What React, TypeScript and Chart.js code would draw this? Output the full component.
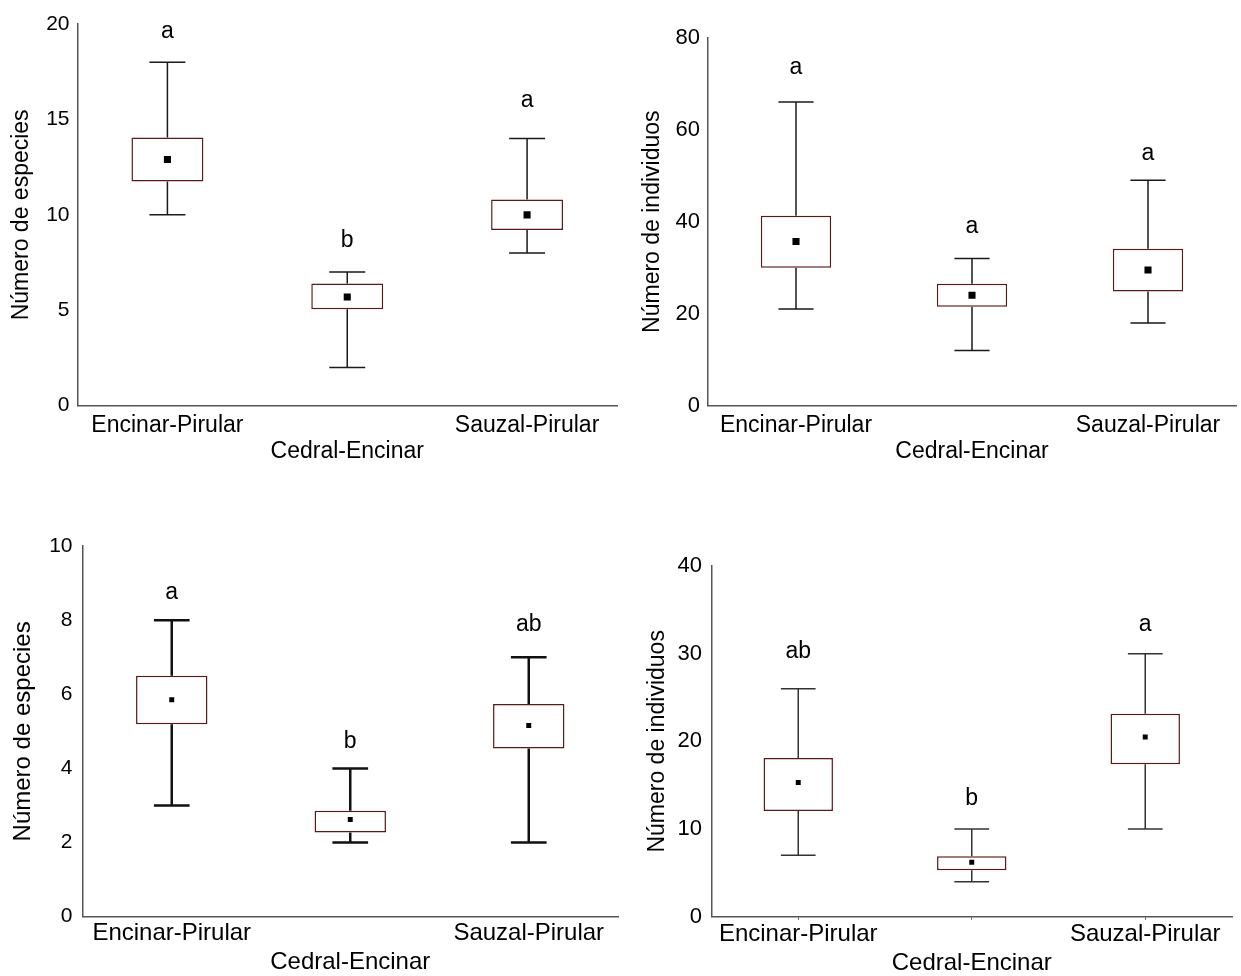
import React, { useEffect, useRef } from 'react';
import { Chart, registerables } from 'chart.js';

Chart.register(...registerables);

const FONT = "'Liberation Sans', Arial, Helvetica, sans-serif";

const categories = ['Encinar-Pirular', 'Cedral-Encinar', 'Sauzal-Pirular'];

// Panel A — Número de especies (0–20)
const aMin = [10, 2, 8];
const aQ1 = [11.75, 5.05, 9.2];
const aMean = [12.9, 5.7, 10.0];
const aQ3 = [14.05, 6.4, 10.8];
const aMax = [18, 7, 14];
const aLetters = ['a', 'b', 'a'];
const aLetterAt = [19.25, 8.3, 15.65];
const aRange = [0, 20, 5];

// Panel B — Número de individuos (0–80)
const bMin = [21, 12, 18];
const bQ1 = [30, 21.5, 24.8];
const bMean = [35.7, 24, 29.5];
const bQ3 = [41.3, 26.5, 34.1];
const bMax = [66, 32, 49];
const bLetters = ['a', 'a', 'a'];
const bLetterAt = [72.1, 37.5, 53.4];
const bRange = [0, 80, 20];

// Panel C — Número de especies (0–10)
const cMin = [3, 2, 2];
const cQ1 = [5.19, 2.27, 4.54];
const cMean = [5.85, 2.62, 5.16];
const cQ3 = [6.5, 2.86, 5.74];
const cMax = [8, 4, 7];
const cLetters = ['a', 'b', 'ab'];
const cLetterAt = [8.57, 4.54, 7.71];
const cRange = [0, 10, 2];

// Panel D — Número de individuos (0–40)
const dMin = [7, 4, 10];
const dQ1 = [12.05, 5.3, 17.4];
const dMean = [15.3, 6.2, 20.5];
const dQ3 = [18.1, 6.9, 23.15];
const dMax = [26, 10, 30];
const dLetters = ['ab', 'b', 'a'];
const dLetterAt = [29.5, 12.74, 32.6];
const dRange = [0, 40, 10];

const AXIS_COLOR = '#555555';
const BOX_EDGE = '#5a1a1a';

type Spec = {
  left: number; top: number; width: number; height: number;
  yAxisWidth: number; plotTop: number; xAxisHeight: number; plotRightGap: number;
  title: string; titleSize: number; titlePad: number;
  tickSize: number; tickPad: number;
  labelSize: number; labelLine: number; labelPad: number; xTickMarks: boolean;
  whiskerColor: string; whiskerWidth: number; meanRadius: number;
  min: number[]; q1: number[]; mean: number[]; q3: number[]; max: number[];
  letters: string[]; letterAt: number[]; range: number[];
};

const panels: Spec[] = [
  {
    left: 0, top: 0, width: 622, height: 480,
    yAxisWidth: 77.5, plotTop: 24, xAxisHeight: 74.3, plotRightGap: 0,
    title: 'Número de especies', titleSize: 23, titlePad: 7.5,
    tickSize: 21, tickPad: 8,
    labelSize: 23, labelLine: 26, labelPad: 7, xTickMarks: false,
    whiskerColor: '#1a1a1a', whiskerWidth: 1.5, meanRadius: 5,
    min: aMin, q1: aQ1, mean: aMean, q3: aQ3, max: aMax,
    letters: aLetters, letterAt: aLetterAt, range: aRange,
  },
  {
    left: 622, top: 0, width: 619, height: 480,
    yAxisWidth: 86, plotTop: 37.7, xAxisHeight: 74.3, plotRightGap: 0,
    title: 'Número de individuos', titleSize: 23, titlePad: 16.8,
    tickSize: 22, tickPad: 8,
    labelSize: 23, labelLine: 26, labelPad: 7, xTickMarks: false,
    whiskerColor: '#1a1a1a', whiskerWidth: 1.5, meanRadius: 5,
    min: bMin, q1: bQ1, mean: bMean, q3: bQ3, max: bMax,
    letters: bLetters, letterAt: bLetterAt, range: bRange,
  },
  {
    left: 0, top: 480, width: 622, height: 496,
    yAxisWidth: 82.5, plotTop: 66, xAxisHeight: 59.3, plotRightGap: 3.5,
    title: 'Número de especies', titleSize: 24, titlePad: 8.6,
    tickSize: 21, tickPad: 10,
    labelSize: 24, labelLine: 29, labelPad: 2.5, xTickMarks: false,
    whiskerColor: '#111111', whiskerWidth: 2.5, meanRadius: 3.5,
    min: cMin, q1: cQ1, mean: cMean, q3: cQ3, max: cMax,
    letters: cLetters, letterAt: cLetterAt, range: cRange,
  },
  {
    left: 622, top: 480, width: 619, height: 496,
    yAxisWidth: 89.5, plotTop: 86, xAxisHeight: 59.3, plotRightGap: 9,
    title: 'Número de individuos', titleSize: 23, titlePad: 21.6,
    tickSize: 22, tickPad: 9.5,
    labelSize: 24, labelLine: 29, labelPad: 0, xTickMarks: true,
    whiskerColor: '#333333', whiskerWidth: 1.5, meanRadius: 3.5,
    min: dMin, q1: dQ1, mean: dMean, q3: dQ3, max: dMax,
    letters: dLetters, letterAt: dLetterAt, range: dRange,
  },
];

function BoxPanel({ spec }: { spec: Spec }) {
  const ref = useRef<HTMLCanvasElement>(null);

  useEffect(() => {
    const s = spec;
    const canvas = ref.current;
    if (!canvas) return;

    // whiskers under the boxes, group letters above them
    const boxExtras = {
      id: 'boxExtras',
      beforeDatasetsDraw(chart: any) {
        const { ctx } = chart;
        const x = chart.scales.x;
        const y = chart.scales.y;
        const step = x.getPixelForValue(1) - x.getPixelForValue(0);
        const half = step * 0.1;
        ctx.save();
        ctx.strokeStyle = s.whiskerColor;
        ctx.lineWidth = s.whiskerWidth;
        s.min.forEach((_: number, i: number) => {
          const cx = x.getPixelForValue(i);
          const yMax = y.getPixelForValue(s.max[i]);
          const yQ3 = y.getPixelForValue(s.q3[i]);
          const yQ1 = y.getPixelForValue(s.q1[i]);
          const yMin = y.getPixelForValue(s.min[i]);
          ctx.beginPath();
          ctx.moveTo(cx, yMax); ctx.lineTo(cx, yQ3);
          ctx.moveTo(cx, yQ1); ctx.lineTo(cx, yMin);
          ctx.moveTo(cx - half, yMax); ctx.lineTo(cx + half, yMax);
          ctx.moveTo(cx - half, yMin); ctx.lineTo(cx + half, yMin);
          ctx.stroke();
        });
        ctx.restore();
      },
      afterDatasetsDraw(chart: any) {
        const { ctx } = chart;
        const x = chart.scales.x;
        const y = chart.scales.y;
        ctx.save();
        ctx.fillStyle = '#000';
        ctx.font = `23px ${FONT}`;
        ctx.textAlign = 'center';
        ctx.textBaseline = 'alphabetic';
        s.letters.forEach((t: string, i: number) => {
          ctx.fillText(t, x.getPixelForValue(i), y.getPixelForValue(s.letterAt[i]));
        });
        ctx.restore();
      },
    };

    const chart = new Chart(canvas, {
      type: 'bar',
      data: {
        labels: categories,
        datasets: [
          {
            type: 'bar',
            data: s.q1.map((v, i) => [v, s.q3[i]]) as any,
            backgroundColor: '#ffffff',
            borderColor: BOX_EDGE,
            borderWidth: 1.5,
            borderSkipped: false,
            barPercentage: 0.4,
            categoryPercentage: 1,
            order: 1,
          },
          {
            type: 'line',
            data: s.mean,
            showLine: false,
            pointStyle: 'rect',
            pointRadius: s.meanRadius,
            pointBackgroundColor: '#000',
            pointBorderColor: '#000',
            pointBorderWidth: 0,
            order: 0,
          } as any,
        ],
      },
      options: {
        responsive: false,
        animation: false,
        devicePixelRatio: 1,
        layout: { padding: { top: s.plotTop, right: s.plotRightGap, left: 0, bottom: 0 } },
        plugins: { legend: { display: false }, tooltip: { enabled: false } },
        events: [],
        scales: {
          x: {
            type: 'category',
            offset: true,
            grid: {
              display: s.xTickMarks,
              drawOnChartArea: false,
              drawTicks: s.xTickMarks,
              tickLength: 3,
              offset: false,
              color: AXIS_COLOR,
            },
            border: { display: true, color: AXIS_COLOR, width: 1.5 },
            ticks: {
              color: '#000',
              font: { family: FONT, size: s.labelSize, lineHeight: s.labelLine / s.labelSize },
              padding: s.labelPad,
              autoSkip: false,
              maxRotation: 0,
              minRotation: 0,
              callback: (_v: any, i: number) => (i % 2 === 1 ? ['', categories[i]] : categories[i]),
            },
            afterFit: (scale: any) => { scale.height = s.xAxisHeight; },
          },
          y: {
            min: s.range[0],
            max: s.range[1],
            grid: { display: false, drawTicks: false },
            border: { display: true, color: AXIS_COLOR, width: 1.5 },
            ticks: {
              stepSize: s.range[2],
              color: '#000',
              font: { family: FONT, size: s.tickSize },
              padding: s.tickPad,
            },
            title: {
              display: true,
              text: s.title,
              color: '#000',
              font: { family: FONT, size: s.titleSize, lineHeight: 1.2 },
              padding: { top: s.titlePad, bottom: 0 },
            },
            afterFit: (scale: any) => { scale.width = s.yAxisWidth; },
          },
        },
      } as any,
      plugins: [boxExtras],
    });

    return () => chart.destroy();
  }, [spec]);

  return (
    <canvas
      ref={ref}
      width={spec.width}
      height={spec.height}
      style={{ position: 'absolute', left: spec.left, top: spec.top, width: spec.width, height: spec.height }}
    />
  );
}

export default function App() {
  return (
    <div style={{ position: 'absolute', left: 0, top: 0, width: 1241, height: 976, background: '#fff', overflow: 'hidden' }}>
      {panels.map((p, i) => (
        <BoxPanel key={i} spec={p} />
      ))}
    </div>
  );
}
